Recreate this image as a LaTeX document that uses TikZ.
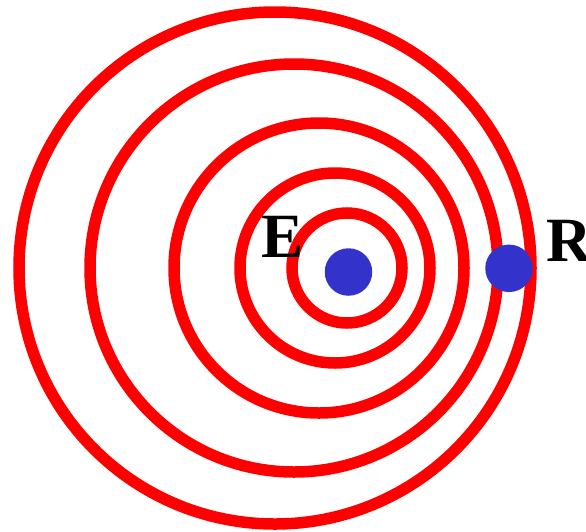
\documentclass[tikz,border=0pt]{standalone}
\usepackage{fontspec}
\setmainfont{Liberation Serif}
\usepackage{tikz}
\definecolor{wavered}{HTML}{FF0000}
\definecolor{dotblue}{HTML}{3333CC}

\begin{document}
\begin{tikzpicture}[
  x=1pt,y=-1pt,
  wave/.style={draw=wavered,line width=11.5pt},
  dot/.style={circle,fill=dotblue,inner sep=0pt,minimum size=47.5pt},
  lbl/.style={inner sep=0pt,font=\fontsize{63}{63}\selectfont\bfseries}
]
\useasboundingbox (0,0) rectangle (586,531);
% wavefronts, centre drifting left as they grow
\foreach \cx/\r in {347/55,335/95,319/145,294/204,275/256}
  \draw[wave] (\cx,268) circle (\r);
\node[dot] (emitter) at (348.5,272) {};
\node[dot] (receiver) at (509,268.3) {};
\node[lbl,anchor=base west] (elabel) at (261,257) {E};
\node[lbl,anchor=base west] (rlabel) at (546,261) {R};
\end{tikzpicture}
\end{document}
